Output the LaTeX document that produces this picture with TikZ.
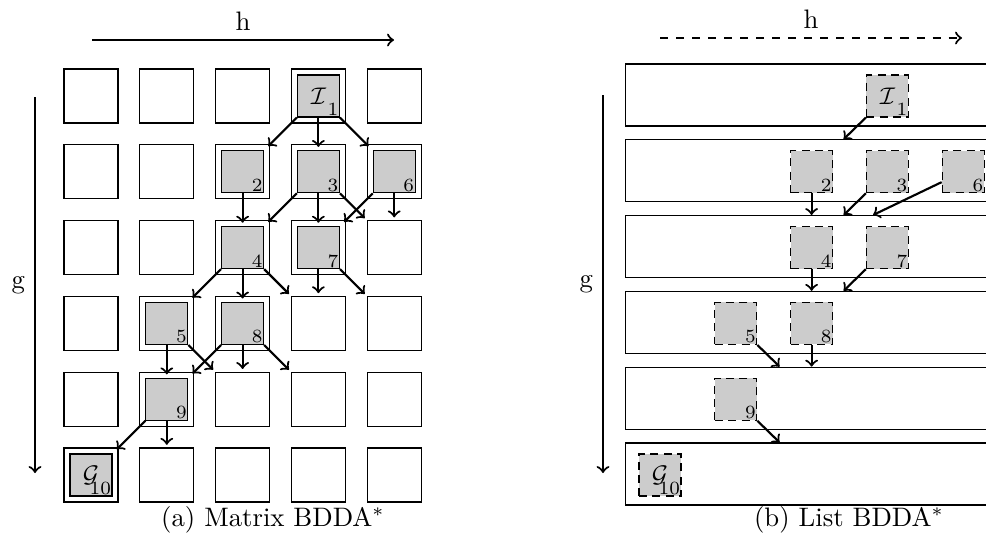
\documentclass[tikz,border=0pt]{standalone}
\begin{document}
\begin{tikzpicture}[x={(0.013158cm,0)}, y={(0,-0.013158cm)},
  cell/.style={draw, minimum size=0.7105cm, inner sep=0pt},
  st/.style={draw, fill=black!20, minimum size=0.5526cm, inner sep=0pt, font=\small},
  lst/.style={st, densely dashed},
  num/.style={label={[anchor=south east, inner sep=0.4pt, font=\scriptsize]south east:#1}},
  rowbox/.style={draw, anchor=west, minimum width=4.9cm, minimum height=0.8158cm, inner sep=0pt},
  arr/.style={->, thick},
  arrG/.style={arr, shorten >=-1pt},
  arrN/.style={arr, shorten >=1pt},
  axis/.style={->, thick},
  captext/.style={inner sep=0pt}
  ]
\clip (0,0) rectangle (986,545);

% ---------- (a) matrix ----------
\foreach \i in {1,...,6}{
  \foreach \j in {1,...,5}{
    \node[cell] (c\i\j) at ({91+75.8*(\j-1)},{96+75.8*(\i-1)}) {};
  }
}
\node[st, num=1]  (g1) at (c14) {$\mathcal{I}$};
\node[st, num=2]  (g2) at (c23) {};
\node[st, num=3]  (g3) at (c24) {};
\node[st, num=6]  (g6) at (c25) {};
\node[st, num=4]  (g4) at (c33) {};
\node[st, num=7]  (g7) at (c34) {};
\node[st, num=5]  (g5) at (c42) {};
\node[st, num=8]  (g8) at (c43) {};
\node[st, num=9]  (g9) at (c52) {};
\node[st, num=10] (g10) at (c61) {$\mathcal{G}$};

\draw[arrG] (g1.south west) -- (c23.north east);
\draw[arrG] (g1.south) -- (c24.north);
\draw[arrG] (g1.south east) -- (c25.north west);
\draw[arrG] (g2.south) -- (c33.north);
\draw[arrG] (g3.south west) -- (c33.north east);
\draw[arrG] (g3.south) -- (c34.north);
\draw[arrN] (g3.south east) -- (c35.north west);
\draw[arrG] (g6.south west) -- (c34.north east);
\draw[arrN] (g6.south) -- (c35.north);
\draw[arrG] (g4.south west) -- (c42.north east);
\draw[arrG] (g4.south) -- (c43.north);
\draw[arrN] (g4.south east) -- (c44.north west);
\draw[arrN] (g7.south) -- (c44.north);
\draw[arrN] (g7.south east) -- (c45.north west);
\draw[arrG] (g5.south) -- (c52.north);
\draw[arrN] (g5.south east) -- (c53.north west);
\draw[arrG] (g8.south west) -- (c52.north east);
\draw[arrN] (g8.south) -- (c53.north);
\draw[arrN] (g8.south east) -- (c54.north west);
\draw[arrG] (g9.south west) -- (c61.north east);
\draw[arrN] (g9.south) -- (c62.north);

\coordinate (ha0) at (92,40);
\coordinate (ha1) at (394,40);
\draw[axis] (ha0) -- (ha1) node[midway, above] (hA) {h};
\coordinate (ga0) at (35,97);
\coordinate (ga1) at (35,473);
\draw[axis] (ga0) -- (ga1) node[midway, left] (gA) {g};
\node[captext] (capA) at (273,520) {(a) Matrix BDDA$^*$};

% ---------- (b) list ----------
\foreach \i in {1,...,6}{
  \node[rowbox] (r\i) at (625,{95+75.8*(\i-1)}) {};
}
\node[lst, num=1]  (l1) at (887.4,96) {$\mathcal{I}$};
\node[lst, num=2]  (l2) at (811.6,171.8) {};
\node[lst, num=3]  (l3) at (887.4,171.8) {};
\node[lst, num=6]  (l6) at (963.2,171.8) {};
\node[lst, num=4]  (l4) at (811.6,247.6) {};
\node[lst, num=7]  (l7) at (887.4,247.6) {};
\node[lst, num=5]  (l5) at (735.8,323.4) {};
\node[lst, num=8]  (l8) at (811.6,323.4) {};
\node[lst, num=9]  (l9) at (735.8,399.2) {};
\node[lst, num=10] (l10) at (660,475) {$\mathcal{G}$};

\coordinate (t1) at (843.6,0 |- r2.north);
\coordinate (t2) at (811.6,0 |- r3.north);
\coordinate (t3) at (843.6,0 |- r3.north);
\coordinate (t6) at (873,0 |- r3.north);
\coordinate (t4) at (811.6,0 |- r4.north);
\coordinate (t7) at (843.6,0 |- r4.north);
\coordinate (t5) at (779.6,0 |- r5.north);
\coordinate (t8) at (811.6,0 |- r5.north);
\coordinate (t9) at (779.6,0 |- r6.north);

\draw[arr] (l1.south west) -- (t1);
\draw[arr] (l2.south) -- (t2);
\draw[arr] (l3.south west) -- (t3);
\draw[arr] (l6) -- (t6);
\draw[arr] (l4.south) -- (t4);
\draw[arr] (l7.south west) -- (t7);
\draw[arr] (l5.south east) -- (t5);
\draw[arr] (l8.south) -- (t8);
\draw[arr] (l9.south east) -- (t9);

\coordinate (hb0) at (660,38);
\coordinate (hb1) at (962,38);
\draw[axis, dashed] (hb0) -- (hb1) node[midway, above] (hB) {h};
\coordinate (gb0) at (603,95);
\coordinate (gb1) at (603,473);
\draw[axis] (gb0) -- (gb1) node[midway, left] (gB) {g};
\node[captext] (capB) at (849,520) {(b) List BDDA$^*$};
\end{tikzpicture}
\end{document}
